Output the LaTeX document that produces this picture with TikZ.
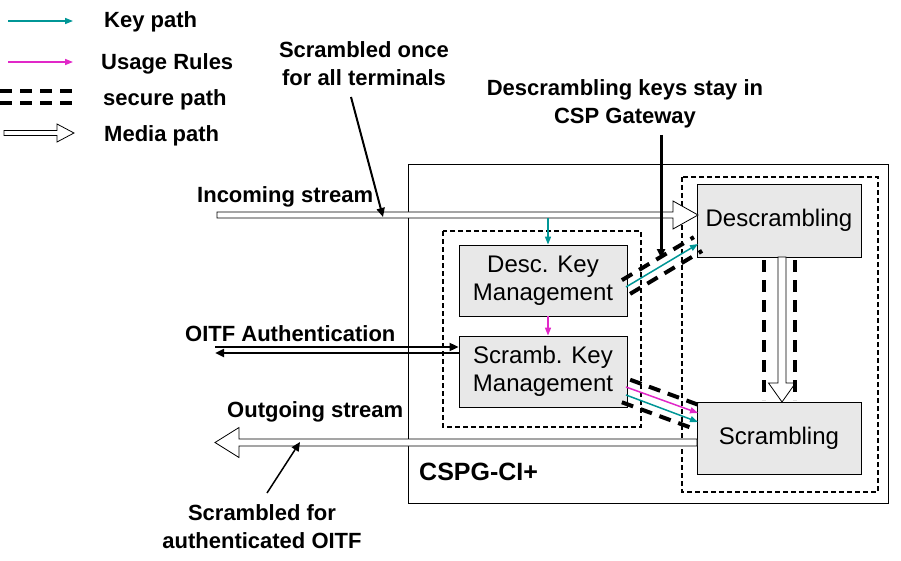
\documentclass[tikz,border=0pt]{standalone}
\usepackage{fontspec}
\setmainfont{Liberation Sans}
\usetikzlibrary{arrows.meta,calc}

\definecolor{keyteal}{RGB}{0,150,150}
\definecolor{rulemagenta}{RGB}{225,40,200}
\definecolor{boxgray}{RGB}{232,232,232}

% block arrow: from, to, half shaft, half head, head length
\newcommand\mediaarrow[5]{%
	\draw[arrow_media] let \p1=(#1), \p2=(#2), \n1={atan2(\y2-\y1,\x2-\x1)}, \n2={veclen(\x2-\x1,\y2-\y1)} in
		[shift={(\p1)}, rotate=\n1]
		(0pt,#3) -- ({\n2-#5},#3) -- ({\n2-#5},#4) -- (\n2,0pt) -- ({\n2-#5},-#4) -- ({\n2-#5},-#3) -- (0pt,-#3) -- cycle;}

\begin{document}
\begin{tikzpicture}[x=1pt,y=-1pt]
	\tikzstyle{box_block} = [draw=black, fill=boxgray, line width=0.8pt, inner sep=0pt, align=center, font=\fontsize{24}{28}\selectfont]
	\tikzstyle{label_text} = [inner sep=0pt, align=center, font=\fontsize{22}{28}\selectfont\bfseries]
	\tikzstyle{arrow_key} = [keyteal, line width=1.5pt, -{Triangle[length=8pt,width=6pt]}]
	\tikzstyle{arrow_rule} = [rulemagenta, line width=1.5pt, -{Triangle[length=8pt,width=6pt]}]
	\tikzstyle{arrow_callout} = [black, line width=2pt, -{Triangle[length=9pt,width=8pt]}]
	\tikzstyle{arrow_media} = [draw=black, fill=white, line width=0.8pt]
	\tikzstyle{line_secure} = [black, line width=4pt, dash pattern=on 12pt off 8pt]
	\tikzstyle{zone} = [draw=black, line width=1.5pt, dash pattern=on 5pt off 3pt]

	\useasboundingbox (0,0) rectangle (901,561);

%------------------------------------------------------------
	\coordinate (lk0) at (8,21);
	\coordinate (lk1) at (73,21);
	\draw[arrow_key] (lk0) -- (lk1);
	\node[label_text, anchor=base west] (lkt) at (104,28) {Key path};

	\coordinate (lu0) at (8,62);
	\coordinate (lu1) at (73,62);
	\draw[arrow_rule] (lu0) -- (lu1);
	\node[label_text, anchor=base west] (lut) at (101,70) {Usage Rules};

	\coordinate (ls0) at (0,91);
	\coordinate (ls1) at (73,91);
	\draw[line_secure] (ls0) -- (ls1);
	\draw[line_secure] ([yshift=-12pt]ls0) -- ([yshift=-12pt]ls1);
	\node[label_text, anchor=base west] (lst) at (103,106) {secure path};

	\coordinate (lm0) at (4,133);
	\coordinate (lm1) at (74,133);
	\mediaarrow{lm0}{lm1}{2.5pt}{9pt}{17pt}
	\node[label_text, anchor=base west] (lmt) at (104,142) {Media path};

%------------------------------------------------------------
	\draw[line width=1pt] (408,165) rectangle (888,503);
	\draw[zone] (443,231) rectangle (641,427);
	\draw[zone] (682,177) rectangle (878,492);

	\node[box_block, minimum width=164pt, minimum height=73pt] (desc) at (779,220.5) {Descrambling};
	\node[box_block, minimum width=164pt, minimum height=72pt] (scr) at (779,438) {Scrambling};
	\node[box_block, minimum width=168pt, minimum height=71pt] (desckm) at (543,280.5) {Desc. Key\\Management};
	\node[box_block, minimum width=168pt, minimum height=71pt] (scrkm) at (543,371.5) {Scramb. Key\\Management};

	\node[inner sep=0pt, anchor=base west, font=\fontsize{25}{30}\selectfont\bfseries] (cspg) at (419,480) {CSPG-CI+};

%------------------------------------------------------------
	\coordinate (in0) at (217,215);
	\coordinate (in1) at (698,215);
	\mediaarrow{in0}{in1}{3pt}{14pt}{25pt}

	\coordinate (out0) at (697,442.5);
	\coordinate (out1) at (215,442.5);
	\mediaarrow{out0}{out1}{3.5pt}{15pt}{24pt}

	\coordinate (mid0) at (782,257);
	\coordinate (mid1) at (782,402);
	\mediaarrow{mid0}{mid1}{4pt}{13.5pt}{19pt}
	\draw[line_secure] ([xshift=-18pt,yshift=-3pt]mid0) -- ([xshift=-18pt,yshift=2pt]mid1);
	\draw[line_secure] ([xshift=13pt,yshift=-3pt]mid0) -- ([xshift=13pt,yshift=2pt]mid1);

%------------------------------------------------------------
	\coordinate (kd0) at (548,218);
	\draw[arrow_key] (kd0) -- (kd0 |- desckm.north);
	\draw[arrow_rule] ([xshift=5pt]desckm.south) -- ([xshift=5pt]scrkm.north);

	\coordinate (ka0) at (626,287);
	\coordinate (ka1) at (698,244);
	\draw[arrow_key] (ka0) -- (ka1);
	\draw[line_secure] ($(ka0)!8pt!90:(ka1)$) -- ($(ka1)!8pt!-90:(ka0)$);
	\draw[line_secure] ($(ka0)!8pt!-90:(ka1)$) -- ($(ka1)!8pt!90:(ka0)$);

	\coordinate (kb0) at (626,391);
	\coordinate (kb1) at (698,417.5);
	\draw[arrow_rule] ([yshift=4pt]kb0) -- ([yshift=4.5pt]kb1);
	\draw[arrow_key] ([yshift=-4pt]kb0) -- ([yshift=-4.5pt]kb1);
	\draw[line_secure] ($(kb0)!12pt!90:(kb1)$) -- ($(kb1)!12pt!-90:(kb0)$);
	\draw[line_secure] ($(kb0)!12pt!-90:(kb1)$) -- ($(kb1)!12pt!90:(kb0)$);

%------------------------------------------------------------
	\coordinate (oa0) at (215,347);
	\coordinate (ob0) at (215,353);
	\draw[arrow_callout, line width=1.8pt] (oa0) -- (oa0 -| scrkm.west);
	\draw[arrow_callout, line width=2.4pt] (ob0 -| scrkm.west) -- (ob0);

	\node[label_text, anchor=base west] (incoming) at (197,203) {Incoming stream};
	\node[label_text, anchor=base west] (oitf) at (185,341) {OITF Authentication};
	\node[label_text, anchor=base west] (outgoing) at (227,417) {Outgoing stream};
	\node[label_text] (once) at (364,64) {Scrambled once\\for all terminals};
	\node[label_text] (stay) at (625,104) {Descrambling keys stay in\\CSP Gateway};
	\node[label_text] (scrfor) at (262,527) {Scrambled for\\authenticated OITF};

	\coordinate (c1a) at (351,97);
	\coordinate (c1b) at (383,217);
	\draw[arrow_callout] (c1a) -- (c1b);
	\coordinate (c2a) at (661,135);
	\coordinate (c2b) at (661,258);
	\draw[arrow_callout, line width=3pt] (c2a) -- (c2b);
	\coordinate (c3a) at (267,493);
	\coordinate (c3b) at (300,442);
	\draw[arrow_callout, line width=1.5pt] (c3a) -- (c3b);

\end{tikzpicture}
\end{document}
